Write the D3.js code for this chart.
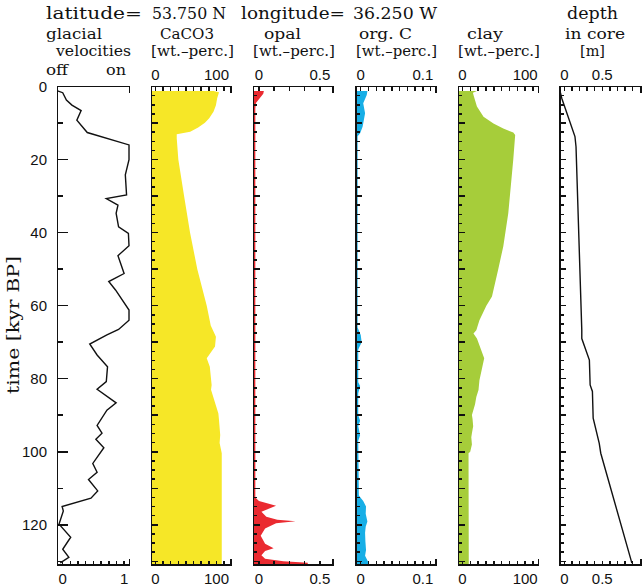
<!DOCTYPE html>
<html>
<head>
<meta charset="utf-8">
<script src="https://cdn.jsdelivr.net/npm/d3@7"></script>
<style>
  body { margin: 0; background: #fff; }
  text { fill: #111; }
  .serif { font-family: 'DejaVu Serif', serif; font-size: 15px; }
  .big { font-size: 17px; }
  .num { font-family: 'Liberation Sans', Arial, sans-serif; font-size: 15px; }
</style>
</head>
<body>
<svg width="643" height="588"></svg>
<script>
// time in kyr BP, one list per core record
const glacialT = [1.2, 1.7, 3.7, 5.1, 6.6, 9.2, 12.6, 16.0, 20.0, 24.2, 29.7, 30.7, 32.5, 34.7, 38.4, 40.2,
  43.6, 46.3, 51.2, 53.4, 55.7, 61.2, 64.0, 66.5, 68.0, 70.5, 73.5, 76.7, 80.8, 82.9, 86.6, 88.6, 92.8,
  94.9, 96.6, 98.9, 103.2, 105.6, 107.6, 110.7, 112.7, 115.0, 116.2, 119.8, 123.4, 126.7, 128.9, 130.4];
const glacialV = [-0.085, 0.0, 0.06, 0.15, 0.30, 0.23, 0.40, 1.08, 1.08, 1.02, 1.04, 0.71, 0.90, 0.87, 0.91, 1.07,
  1.08, 0.90, 1.0, 0.75, 0.86, 1.08, 1.08, 0.91, 0.72, 0.44, 0.56, 0.73, 0.71, 0.56, 0.87, 0.72, 0.56,
  0.64, 0.54, 0.67, 0.49, 0.56, 0.42, 0.57, 0.46, -0.01, 0.01, -0.06, 0.13, 0.0, 0.10, -0.04];

const caco3T = [1.2, 1.6, 3.2, 5.1, 6.9, 8.7, 9.9, 11.2, 12.4, 13.1, 14.2, 20, 30, 40, 50, 60, 65.4, 68.5,
  71.2, 74.4, 76.7, 81.7, 83.0, 89.5, 91.3, 95.4, 97.6, 100.4, 131];
const caco3V = [95, 104, 101, 99, 95, 88, 81, 70, 57, 35, 35, 37.6, 47, 56.7, 68.6, 84, 90.5, 99,
  97.5, 84, 89, 92, 91, 103, 104, 106, 105, 108.5, 108.5];

const opalT = [1.2, 2.0, 4.5, 6.0, 112.5, 113.5, 114.8, 116.4, 117.8, 118.6, 119.0, 119.6, 121.0, 123.0,
  125.2, 126.4, 127.2, 128.3, 129.3, 130.0, 130.4, 131];
const opalV = [0.04, 0.035, -0.025, -0.03, -0.03, 0.0, 0.14, 0.02, 0.06, 0.15, 0.30, 0.14, 0.05, 0.014,
  0.05, 0.12, 0.05, 0.02, 0.05, 0.20, 0.40, 0.40];

const orgcT = [1.2, 2.3, 4.6, 7.3, 11.0, 12.8, 13.6, 66, 68, 70, 72, 81, 82, 84, 90, 91.5, 93, 95.5, 97,
  112, 113.5, 115, 117, 119.1, 120.5, 122.2, 124.5, 126.9, 128.5, 130.1, 131];
const orgcV = [0.0107, 0.0097, 0.004, 0.007, 0.003, -0.001, -0.005, -0.005, 0.0, 0.0015, -0.004, -0.004, -0.001,
  -0.004, -0.004, -0.001, -0.004, -0.001, -0.004, -0.003, 0.004, 0.0085, 0.008, 0.0107, 0.008, 0.007, 0.0075,
  0.0085, 0.007, 0.0118, 0.0118];

const clayT = [1.2, 1.7, 2.3, 5.5, 8.3, 10.1, 11.5, 12.6, 13.3, 19.9, 34.7, 43.8, 50, 57.5, 60, 64, 66.7, 67.6,
  69, 74.4, 80.4, 83.1, 85, 87, 89.9, 91, 93, 94.9, 96, 98, 100, 100.4, 131];
const clayV = [23, 16.6, 17.5, 23, 33.5, 49.4, 65, 81, 84, 81, 73, 65, 57, 47, 38, 27, 22, 17.5,
  23, 34.6, 27, 25.5, 22, 20, 15, 16, 17, 15, 14, 15, 12.3, 9.6, 10];

const depthT = [1.2, 3.2, 13.7, 16.5, 66.7, 69, 74.9, 81.7, 83.5, 90.8, 97.7, 100.4, 130.5];
const depthV = [-0.057, -0.034, 0.14, 0.154, 0.23, 0.23, 0.33, 0.34, 0.37, 0.38, 0.46, 0.48, 0.89];

const timeLabels = [0, 20, 40, 60, 80, 100, 120];
const glacialLabels = [0, 1];
const caco3Labels = [0, 100];
const opalLabels = [0, 0.5];
const orgcLabels = [0, 0.1];
const clayLabels = [0, 100];
const depthLabels = [0, 0.5];

const svg = d3.select('svg');
const y = d3.scaleLinear().domain([0, 131]).range([86.5, 565]);
const yTop = y.range()[0], yBot = y.range()[1];

const panels = [
  { x: d3.scaleLinear().domain([-0.085, 1.088]).range([57.5, 129.5]), step: 0.125,
    t: glacialT, v: glacialV, labels: glacialLabels, color: null, glacial: true },
  { x: d3.scaleLinear().domain([-6.2, 123.6]).range([151.5, 231]), step: 12.5,
    t: caco3T, v: caco3V, labels: caco3Labels, color: '#f6e727' },
  { x: d3.scaleLinear().domain([-0.045, 0.607]).range([253.5, 333]), step: 0.125,
    t: opalT, v: opalV, labels: opalLabels, color: '#ea2a30' },
  { x: d3.scaleLinear().domain([-0.0076, 0.121]).range([356, 436]), step: 0.0125,
    t: orgcT, v: orgcV, labels: orgcLabels, color: '#17aee6' },
  { x: d3.scaleLinear().domain([-6.4, 121.2]).range([458.5, 538.5]), step: 12.5,
    t: clayT, v: clayV, labels: clayLabels, color: '#a6cd3a' },
  { x: d3.scaleLinear().domain([-0.057, 1.01]).range([560, 641]), step: 0.1,
    t: depthT, v: depthV, labels: depthLabels, color: null },
];

function drawPanel(p) {
  const x = p.x;
  const x0 = x.range()[0], x1 = x.range()[1];
  const pts = p.t.map((t, i) => [t, p.v[i]]);
  const g = svg.append('g');

  if (p.color) {
    const area = d3.area()
      .y(d => y(d[0]))
      .x0(x0)
      .x1(d => x(d[1]));
    g.append('path').datum(pts).attr('d', area).attr('fill', p.color);
  } else {
    const line = d3.line().x(d => x(d[1])).y(d => y(d[0]));
    g.append('path').datum(pts).attr('d', line)
      .attr('fill', 'none').attr('stroke', '#111').attr('stroke-width', 1.4);
  }

  const ax = g.append('g').attr('stroke', '#111').attr('stroke-width', 1.5)
    .attr('shape-rendering', 'crispEdges');
  // frame: left, top, bottom and the two end ticks at the right
  ax.append('path').attr('fill', 'none').attr('d',
    'M' + x1 + ',' + (yTop + 6) + 'V' + yTop + 'H' + x0 + 'V' + yBot + 'H' + x1 + 'V' + (yBot - 6));

  // time ticks on the left axis
  if (p.glacial) {
    ax.selectAll('.tk').data(d3.range(0, 131, 10)).join('line')
      .attr('x1', x0).attr('x2', d => x0 + (d % 20 === 0 ? 10 : 5))
      .attr('y1', d => y(d)).attr('y2', d => y(d));
  } else {
    ax.selectAll('.tk').data(d3.range(0, 131, 2.5)).join('line')
      .attr('x1', x0).attr('x2', d => x0 + (d % 10 === 0 ? 6 : 3.5))
      .attr('y1', d => y(d)).attr('y2', d => y(d));
  }

  // value ticks along top and bottom
  const vt = d3.range(0, x.domain()[1] - p.step * 0.3, p.step);
  if (!p.glacial) {
    ax.selectAll('.tt').data(vt).join('line')
      .attr('x1', d => x(d)).attr('x2', d => x(d))
      .attr('y1', yTop).attr('y2', yTop + 4);
  }
  ax.append('g').selectAll('line').data(vt).join('line')
    .attr('x1', d => x(d)).attr('x2', d => x(d))
    .attr('y1', yBot).attr('y2', yBot - 4);

  if (!p.glacial) {
    g.selectAll('.lt').data(p.labels).join('text').attr('class', 'num')
      .attr('x', d => x(d)).attr('y', 80).attr('text-anchor', 'middle')
      .text(d => d);
  }
  g.append('g').selectAll('text').data(p.labels).join('text').attr('class', 'num')
    .attr('x', d => x(d)).attr('y', 584).attr('text-anchor', 'middle')
    .text(d => d);
}

panels.forEach(drawPanel);

// time labels left of the first panel
svg.append('g').selectAll('text').data(timeLabels).join('text')
  .attr('class', 'num').attr('x', 47).attr('y', d => y(d)).attr('dy', '0.36em')
  .attr('text-anchor', 'end').text(d => d);

svg.append('text').attr('class', 'serif big')
  .attr('transform', 'translate(19,325) rotate(-90)').attr('text-anchor', 'middle')
  .attr('textLength', 138).attr('lengthAdjust', 'spacingAndGlyphs')
  .text('time [kyr BP]');

// header texts: text, left x, baseline y, width, size class
const header = [
  ['latitude=', 46, 19, 96, 'big'], ['53.750 N', 152, 19, 74, 'big'],
  ['longitude=', 241, 19, 104, 'big'], ['36.250 W', 353, 19, 84, 'big'],
  ['depth', 567, 19, 51, 'big'],
  ['glacial', 46, 38.5, 56, ''], ['CaCO3', 160, 38.5, 54, ''], ['opal', 264, 38.5, 37, ''],
  ['org. C', 359, 38.5, 53, ''], ['clay', 467, 38.5, 36, ''], ['in core', 565, 38.5, 60, ''],
  ['velocities', 56, 56, 75, ''], ['[wt.\u2013perc.]', 151, 56, 83, ''],
  ['[wt.\u2013perc.]', 253, 56, 82, ''], ['[wt.\u2013perc.]', 356, 56, 81, ''],
  ['[wt.\u2013perc.]', 458, 56, 82, ''], ['[m]', 580, 56, 25, ''],
  ['off', 46, 75, 22, ''], ['on', 106, 75, 20, ''],
];
svg.append('g').selectAll('text').data(header).join('text')
  .attr('class', d => 'serif ' + d[4])
  .attr('x', d => d[1]).attr('y', d => d[2])
  .attr('textLength', d => d[3]).attr('lengthAdjust', 'spacingAndGlyphs')
  .text(d => d[0]);
</script>
</body>
</html>
